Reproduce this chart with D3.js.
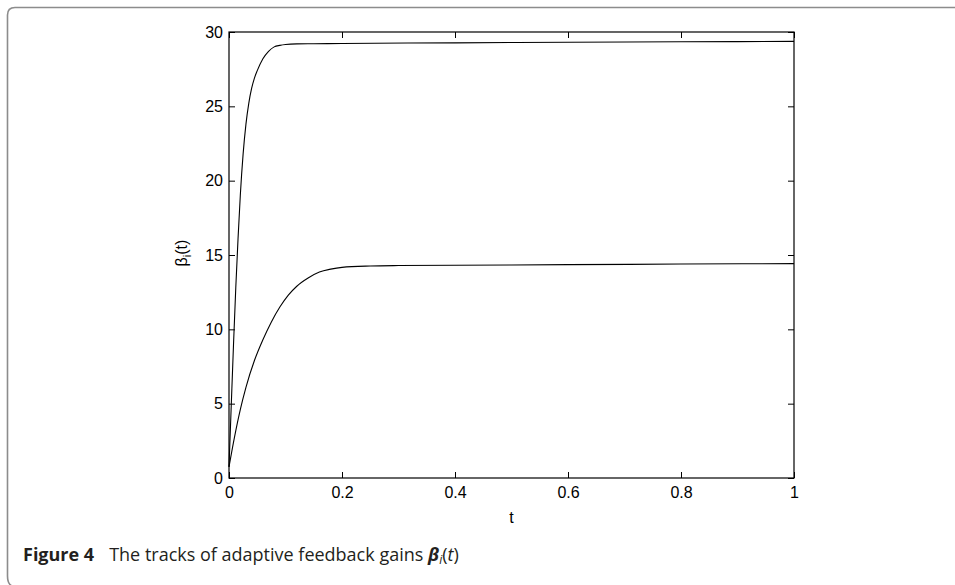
<!DOCTYPE html>
<html>
<head>
<meta charset="utf-8">
<script src="https://cdn.jsdelivr.net/npm/d3@7"></script>
<style>
  body { margin: 0; background: #fff; }
  svg { display: block; }
  .tick text, .lbl { font-family: "Liberation Sans", Arial, Helvetica, sans-serif; font-size: 16px; fill: #000; }
</style>
</head>
<body>
<div id="chart"></div>
<script>
// Values: t and beta for the two gain tracks
const upperT    = [0, 0.004, 0.008, 0.012, 0.016, 0.02, 0.025, 0.03, 0.035, 0.04, 0.045, 0.05, 0.06, 0.07, 0.08, 0.09, 0.1, 0.12, 0.15, 0.2, 0.4, 0.6, 0.8, 1.0];
const upperBeta = [0.75, 4.9, 9.0, 12.8, 16.1, 19.0, 21.8, 23.8, 25.2, 26.2, 26.9, 27.4, 28.2, 28.7, 29.0, 29.1, 29.16, 29.2, 29.21, 29.23, 29.27, 29.31, 29.34, 29.37];

const lowerT    = [0, 0.01, 0.02, 0.03, 0.045, 0.06, 0.075, 0.09, 0.105, 0.12, 0.14, 0.16, 0.18, 0.2, 0.25, 0.3, 0.4, 0.6, 0.8, 1.0];
const lowerBeta = [0.75, 2.8, 4.6, 6.1, 7.9, 9.3, 10.5, 11.5, 12.3, 12.9, 13.45, 13.85, 14.05, 14.17, 14.26, 14.29, 14.31, 14.35, 14.39, 14.42];

const xTicks = [0, 0.2, 0.4, 0.6, 0.8, 1];
const yTicks = [0, 5, 10, 15, 20, 25, 30];

const W = 955, H = 585;
const plot = {left: 229, top: 32, right: 794, bottom: 478};

const svg = d3.select("#chart")
    .append("svg")
    .attr("width", W)
    .attr("height", H);

// Figure frame (top and left border with rounded corners)
svg.append("path")
    .attr("d", "M955,7.5 L15,7.5 Q7.5,7.5 7.5,15 L7.5,576 Q7.5,584 12,586")
    .attr("fill", "none")
    .attr("stroke", "#8c8c8c")
    .attr("stroke-width", 1.6);

const x = d3.scaleLinear().domain([0, 1]).range([plot.left, plot.right]);
const y = d3.scaleLinear().domain([0, 30]).range([plot.bottom, plot.top]);

function styleAxis(g) {
    g.attr("font-size", null).attr("font-family", null);
    g.select(".domain").remove();
    g.selectAll("line").attr("stroke", "#000");
}

// Bottom axis with labels
svg.append("g")
    .attr("transform", `translate(0,${plot.bottom})`)
    .call(d3.axisBottom(x).tickValues(xTicks).tickFormat(d3.format("")).tickSizeInner(-6).tickSizeOuter(0).tickPadding(9))
    .call(styleAxis);

// Top axis, ticks only
svg.append("g")
    .attr("transform", `translate(0,${plot.top})`)
    .call(d3.axisTop(x).tickValues(xTicks).tickFormat("").tickSizeInner(-6).tickSizeOuter(0))
    .call(styleAxis);

// Left axis with labels
svg.append("g")
    .attr("transform", `translate(${plot.left},0)`)
    .call(d3.axisLeft(y).tickValues(yTicks).tickFormat(d3.format("d")).tickSizeInner(-6).tickSizeOuter(0).tickPadding(6))
    .call(styleAxis);

// Right axis, ticks only
svg.append("g")
    .attr("transform", `translate(${plot.right},0)`)
    .call(d3.axisRight(y).tickValues(yTicks).tickFormat("").tickSizeInner(-6).tickSizeOuter(0))
    .call(styleAxis);

// Box
svg.append("rect")
    .attr("x", plot.left)
    .attr("y", plot.top)
    .attr("width", plot.right - plot.left)
    .attr("height", plot.bottom - plot.top)
    .attr("fill", "none")
    .attr("stroke", "#000")
    .attr("stroke-width", 1.2);

// Lines
const line = d3.line()
    .x(d => x(d[0]))
    .y(d => y(d[1]))
    .curve(d3.curveMonotoneX);

const series = [
    d3.zip(upperT, upperBeta),
    d3.zip(lowerT, lowerBeta)
];

series.forEach(s => {
    svg.append("path")
        .datum(s)
        .attr("d", line)
        .attr("fill", "none")
        .attr("stroke", "#000")
        .attr("stroke-width", 1.1);
});

// Axis labels
svg.append("text")
    .attr("class", "lbl")
    .attr("x", (plot.left + plot.right) / 2)
    .attr("y", 523)
    .attr("text-anchor", "middle")
    .text("t");

const yLabel = svg.append("text")
    .attr("class", "lbl")
    .attr("transform", `translate(187,253) rotate(-90)`)
    .attr("text-anchor", "middle");
yLabel.append("tspan").text("β");
yLabel.append("tspan").attr("dy", 4).style("font-size", "11px").text("i");
yLabel.append("tspan").attr("dy", -4).text("(t)");

// Caption
const cap = svg.append("text")
    .attr("x", 23)
    .attr("y", 561)
    .style("font-family", "'Open Sans', sans-serif")
    .style("font-size", "18px")
    .attr("fill", "#231f20");
cap.append("tspan").style("font-weight", "bold").text("Figure 4");
cap.append("tspan").attr("dx", 15).text("The tracks of adaptive feedback gains ");
cap.append("tspan").style("font-weight", "bold").style("font-style", "italic").text("β");
cap.append("tspan").attr("dy", 3).style("font-style", "italic").style("font-size", "12px").text("i");
cap.append("tspan").attr("dy", -3).text("(");
cap.append("tspan").style("font-style", "italic").text("t");
cap.append("tspan").text(")");
</script>
</body>
</html>
